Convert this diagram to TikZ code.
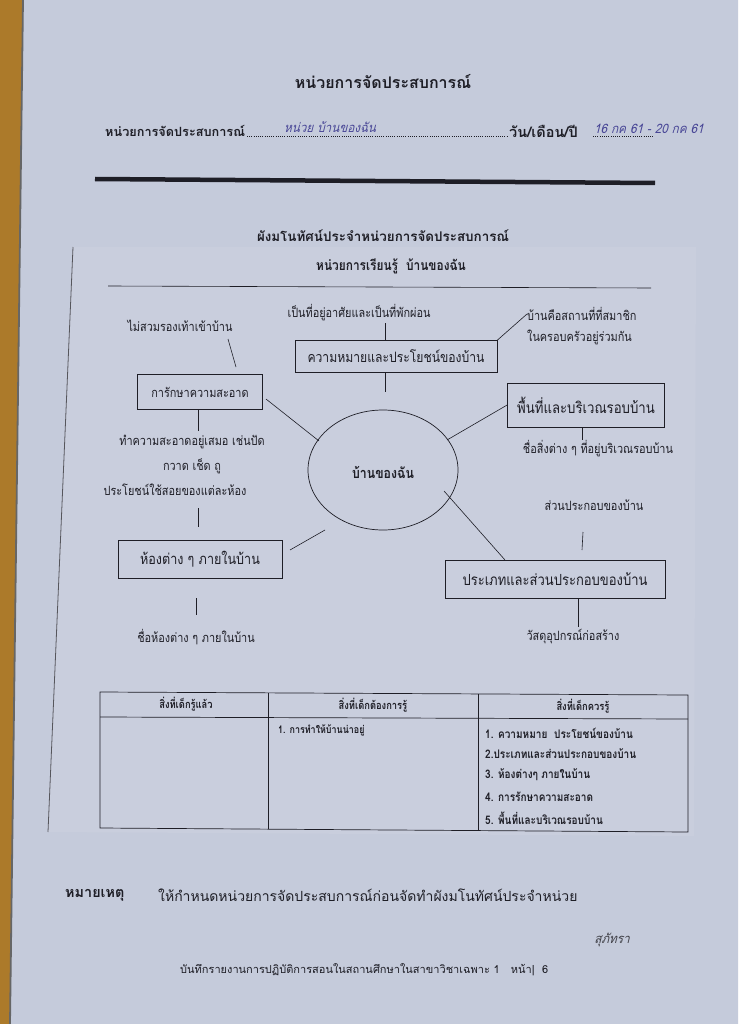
\documentclass[tikz,border=0pt]{standalone}
\usepackage{fontspec}
\usetikzlibrary{shapes.geometric}
\newfontfamily\thaifont[Script=Thai]{Loma}
\newfontfamily\thaicond[Script=Thai,FakeStretch=0.85]{Loma}
\newfontfamily\thaihand[Script=Thai,FakeSlant=0.25,FakeStretch=0.9]{Loma}
\definecolor{wood}{RGB}{172,122,42}
\definecolor{paper}{RGB}{197,203,219}
\definecolor{sheet}{RGB}{201,206,221}
\definecolor{ink}{RGB}{30,30,38}
\definecolor{pen}{RGB}{72,70,150}
\tikzset{
  sans/.style={font=\thaifont\fontsize{14}{16}\selectfont, text=ink, inner sep=0pt},
  sansb/.style={font=\thaifont\bfseries\fontsize{12.7}{15}\selectfont, text=ink, inner sep=0pt},
  lbl/.style={font=\thaicond\fontsize{12.8}{15}\selectfont, text=ink, inner sep=0pt},
  lblb/.style={font=\thaicond\bfseries\fontsize{14.5}{17}\selectfont, text=ink, inner sep=0pt},
  tbl/.style={font=\thaicond\bfseries\fontsize{10.5}{12}\selectfont, text=ink, inner sep=0pt},
  tblh/.style={font=\thaicond\bfseries\fontsize{11}{13}\selectfont, text=ink, inner sep=0pt},
  tbli/.style={font=\thaicond\bfseries\fontsize{11.8}{14}\selectfont, text=ink, inner sep=0pt},
  hand/.style={font=\thaihand\fontsize{13}{15}\selectfont, text=pen, inner sep=0pt},
  mbox/.style={draw=ink, line width=0.7pt, font=\thaicond\fontsize{15.3}{17}\selectfont, text=ink, inner sep=0pt},
  link/.style={draw=ink, line width=0.6pt},
}
\begin{document}
\begin{tikzpicture}[x=1pt,y=-1pt]
\useasboundingbox (0,0) rectangle (738,1024);
% photo background
\fill[wood] (0,0) rectangle (738,1024);
\fill[paper] (23,0) -- (738,0) -- (738,1024) -- (10,1024) -- cycle;
\draw[black!60, line width=1.8pt] (23,0) -- (10,1024);
% pasted sheet
\fill[sheet] (73,247) -- (696,247) -- (694,836) -- (48,832) -- cycle;
\draw[ink!75, line width=0.8pt] (73,247) -- (48,832);

% header of form
\node[sansb, font=\thaifont\bfseries\fontsize{16}{19}\selectfont] (title) at (383,82) {หน่วยการจัดประสบการณ์};
\node[sansb, anchor=west] (unitlbl) at (105,131) {หน่วยการจัดประสบการณ์};
\node[sansb, anchor=west, font=\thaifont\bfseries\fontsize{14.5}{17}\selectfont] (datelbl) at (509,131) {วัน/เดือน/ปี};
\coordinate (dotA) at (247,136);
\coordinate (dotB) at (508,136);
\coordinate (dotC) at (593,136);
\coordinate (dotD) at (653,136);
\draw[ink, line width=0.8pt, dash pattern=on 0.8pt off 1.4pt] (dotA) -- (dotB);
\draw[ink, line width=0.8pt, dash pattern=on 0.8pt off 1.4pt] (dotC) -- (dotD);
\node[hand, anchor=west] (unitname) at (284,127) {หน่วย บ้านของฉัน};
\node[hand, anchor=west] (datetext) at (594,129) {16 กค 61 - 20 กค 61};
\coordinate (ruleL) at (95,179);
\coordinate (ruleR) at (655,183);
\draw[ink, line width=4.5pt] (ruleL) -- (ruleR);

\node[sansb, font=\thaifont\bfseries\fontsize{13.4}{16}\selectfont] (maptitle) at (383,236) {ผังมโนทัศน์ประจำหน่วยการจัดประสบการณ์};

% inner sheet heading
\node[lblb, font=\thaicond\bfseries\fontsize{14}{16}\selectfont] (lunit) at (391,266) {หน่วยการเรียนรู้\ \ บ้านของฉัน};
\coordinate (hrL) at (108,286);
\coordinate (hrR) at (651,288);
\draw[link] (hrL) -- (hrR);

% centre
\node[draw=ink, line width=0.7pt, ellipse, minimum width=150pt, minimum height=120pt, inner sep=0pt] (cen) at (383,470) {};
\node[lblb] (centre) at (383,472) {บ้านของฉัน};

% boxes
\node[mbox, minimum width=202pt, minimum height=32pt, font=\thaicond\fontsize{14.3}{16}\selectfont] (bmean) at (396,356.5) {ความหมายและประโยชน์ของบ้าน};
\node[mbox, minimum width=125pt, minimum height=35pt, font=\thaicond\fontsize{12.8}{15}\selectfont] (bclean) at (200,392) {การักษาความสะอาด};
\node[mbox, minimum width=157pt, minimum height=44pt, font=\thaicond\fontsize{15.5}{17}\selectfont] (barea) at (586,405) {พื้นที่และบริเวณรอบบ้าน};
\node[mbox, minimum width=164pt, minimum height=38pt, font=\thaicond\fontsize{14.8}{17}\selectfont] (brooms) at (200,559) {ห้องต่าง ๆ ภายในบ้าน};
\node[mbox, minimum width=220pt, minimum height=38pt] (btypes) at (555,579) {ประเภทและส่วนประกอบของบ้าน};

% labels
\node[lbl] (tshelter) at (359,313) {เป็นที่อยู่อาศัยและเป็นที่พักผ่อน};
\node[lbl] (tshoes) at (180,326) {ไม่สวมรองเท้าเข้าบ้าน};
\node[lbl, anchor=west] (tfam1) at (527,314) {บ้านคือสถานที่ที่สมาชิก};
\node[lbl, anchor=west] (tfam2) at (527,337) {ในครอบครัวอยู่ร่วมกัน};
\node[lbl] (tthings) at (598,449) {ชื่อสิ่งต่าง ๆ ที่อยู่บริเวณรอบบ้าน};
\node[lbl] (tcl1) at (192,442) {ทำความสะอาดอยู่เสมอ เช่นปัด};
\node[lbl] (tcl2) at (192,466) {กวาด เช็ด ถู};
\node[lbl] (tcl3) at (175,490) {ประโยชน์ใช้สอยของแต่ละห้อง};
\node[lbl] (troomn) at (196,637) {ชื่อห้องต่าง ๆ ภายในบ้าน};
\node[lbl] (tparts) at (594,505) {ส่วนประกอบของบ้าน};
\node[lbl] (tmat) at (573,637) {วัสดุอุปกรณ์ก่อสร้าง};

% connector end points
\coordinate (k1a) at (385,323); \coordinate (k1b) at (385,340.5);
\coordinate (k2a) at (228,339); \coordinate (k2b) at (236,367);
\coordinate (k3a) at (385,372.5); \coordinate (k3b) at (385,392);
\coordinate (k4a) at (266,399); \coordinate (k4b) at (319,441);
\coordinate (k5a) at (447,440);
\coordinate (k6a) at (582,427); \coordinate (k6b) at (582,440);
\coordinate (k7a) at (198,410); \coordinate (k7b) at (198,431);
\coordinate (k8a) at (198,508); \coordinate (k8b) at (198,527);
\coordinate (k9a) at (290,550); \coordinate (k9b) at (325,530);
\coordinate (k10a) at (196,598); \coordinate (k10b) at (196,615);
\coordinate (k11a) at (444,491); \coordinate (k11b) at (505,560);
\coordinate (k12a) at (583,532); \coordinate (k12b) at (582,550);
\coordinate (k13a) at (578,599); \coordinate (k13b) at (578,627);

\draw[link] (k1a) -- (k1b);
\draw[link] (k2a) -- (k2b);
\draw[link] (bmean.north east) -- (tfam1.west);
\draw[link] (k3a) -- (k3b);
\draw[link] (k4a) -- (k4b);
\draw[link] (k5a) -- (barea.west);
\draw[link] (k6a) -- (k6b);
\draw[link] (k7a) -- (k7b);
\draw[link] (k8a) -- (k8b);
\draw[link] (k9a) -- (k9b);
\draw[link] (k10a) -- (k10b);
\draw[link] (k11a) -- (k11b);
\draw[link] (k12a) -- (k12b);
\draw[link] (k13a) -- (k13b);

% table
\coordinate (tA) at (100,692);
\coordinate (tB) at (688,695);
\coordinate (tC) at (688,832);
\coordinate (tD) at (100,828);
\draw[ink, line width=0.7pt] (tA) -- (tB) -- (tC) -- (tD) -- cycle;
\coordinate (tE) at (100,717); \coordinate (tF) at (688,719);
\coordinate (tG) at (268,693); \coordinate (tH) at (268,829);
\coordinate (tI) at (478,694); \coordinate (tJ) at (478,830.5);
\draw[ink, line width=0.7pt] (tE) -- (tF);
\draw[ink, line width=0.7pt] (tG) -- (tH);
\draw[ink, line width=0.7pt] (tI) -- (tJ);
\node[tblh] (h1) at (186,704) {สิ่งที่เด็กรู้แล้ว};
\node[tblh] (h2) at (373,705) {สิ่งที่เด็กต้องการรู้};
\node[tblh] (h3) at (583,706) {สิ่งที่เด็กควรรู้};
\node[tbl, anchor=west] (c21) at (278,730) {1. การทำให้บ้านน่าอยู่};
\node[tbli, anchor=west] (c31) at (485,733) {1. ความหมาย\ \ ประโยชน์ของบ้าน};
\node[tbli, anchor=west] (c32) at (485,754) {2.ประเภทและส่วนประกอบของบ้าน};
\node[tbli, anchor=west] (c33) at (485,775) {3. ห้องต่างๆ ภายในบ้าน};
\node[tbli, anchor=west] (c34) at (485,797) {4. การรักษาความสะอาด};
\node[tbli, anchor=west] (c35) at (485,818) {5. พื้นที่และบริเวณรอบบ้าน};

% footer
\node[sansb, anchor=west, font=\thaifont\bfseries\fontsize{14.4}{17}\selectfont] (note) at (65,895) {หมายเหตุ};
\node[sans, anchor=west] (notetext) at (158,895) {ให้กำหนดหน่วยการจัดประสบการณ์ก่อนจัดทำผังมโนทัศน์ประจำหน่วย};
\node[sans, anchor=west, font=\thaifont\fontsize{11}{13}\selectfont] (footer) at (180,970) {บันทึกรายงานการปฏิบัติการสอนในสถานศึกษาในสาขาวิชาเฉพาะ 1\ \ \ หน้า|\ \ 6};
\node[hand, font=\thaihand\fontsize{13}{15}\selectfont, text=ink!85] (sign) at (612,940) {สุภัทรา};
\end{tikzpicture}
\end{document}
